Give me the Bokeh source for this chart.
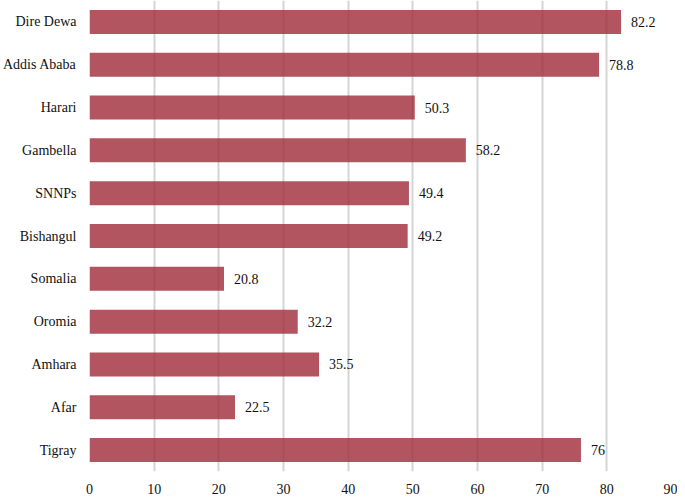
from bokeh.plotting import figure
from bokeh.models import ColumnDataSource, FactorRange, Range1d, FixedTicker
from bokeh.core.properties import value
from bokeh.embed import file_html
from bokeh.resources import INLINE

regions = ["Tigray", "Afar", "Amhara", "Oromia", "Somalia", "Bishangul",
           "SNNPs", "Gambella", "Harari", "Addis Ababa", "Dire Dewa"]
values = [76, 22.5, 35.5, 32.2, 20.8, 49.2, 49.4, 58.2, 50.3, 78.8, 82.2]
labels = ["76", "22.5", "35.5", "32.2", "20.8", "49.2", "49.4", "58.2", "50.3", "78.8", "82.2"]
x_ticks = [0, 10, 20, 30, 40, 50, 60, 70, 80, 90]

FONT = "'Liberation Serif', serif"

src = ColumnDataSource(dict(region=regions, val=values, lab=labels))

p = figure(width=677, height=496, output_backend="svg", toolbar_location=None,
           y_range=FactorRange(factors=regions, range_padding=0.0),
           x_range=Range1d(0, 90),
           min_border_left=81, min_border_right=6, min_border_top=0, min_border_bottom=10)
p.outline_line_color = None
p.background_fill_color = "white"

p.hbar(y="region", right="val", left=0, height=0.56, source=src,
       fill_color="#9f2a3a", fill_alpha=0.8, line_color=None)

p.text(x="val", y="region", text="lab", source=src, x_offset=10,
       text_baseline="middle", text_align="left",
       text_font=value(FONT), text_font_size="14px", text_color="#111111")

p.ygrid.grid_line_color = None
p.xgrid.grid_line_color = "#d4d4d4"
p.xgrid.grid_line_width = 2
p.xaxis.ticker = FixedTicker(ticks=x_ticks)
for ax in (p.xaxis[0], p.yaxis[0]):
    ax.axis_line_color = None
    ax.major_tick_line_color = None
    ax.minor_tick_line_color = None
    ax.major_label_text_font = FONT
    ax.major_label_text_font_size = "14px"
    ax.major_label_text_color = "#111111"
p.xaxis.major_label_standoff = 6
p.yaxis.major_label_standoff = 7

open("out.html", "w").write(file_html(p, INLINE))
